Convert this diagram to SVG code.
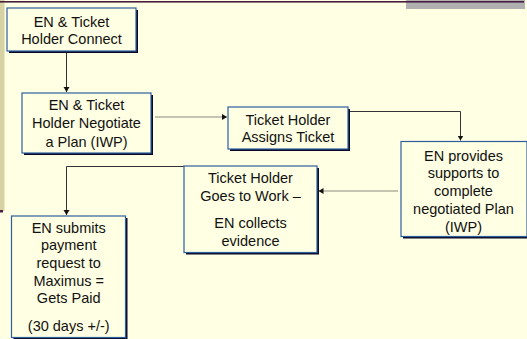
<svg xmlns="http://www.w3.org/2000/svg" width="527" height="339" viewBox="0 0 527 339">
<defs>
<style>
.box{fill:#FFFFE3;stroke:#2E5E9E;stroke-width:1.2}
.sh{fill:#0A0A28}
.t{font-family:"Liberation Sans",Arial,sans-serif;font-size:14.5px;fill:#111;text-anchor:middle}
.c{fill:none;stroke:#333;stroke-width:1}
.cg{fill:none;stroke:#8A8A80;stroke-width:1.2}
</style>
<marker id="ah" markerUnits="userSpaceOnUse" markerWidth="8" markerHeight="8" refX="5" refY="3" orient="auto">
<path d="M0,0 L5,3 L0,6 Z" fill="#111"/>
</marker>
</defs>
<rect x="0" y="0" width="527" height="339" fill="#FFFFE3"/>
<rect x="0" y="0" width="4.5" height="211" fill="#D6D2A4"/>
<rect x="0" y="210" width="3" height="2.5" fill="#4A1E40"/>
<rect x="406" y="0" width="119" height="9" fill="#B0B0B0"/>
<rect x="0" y="1" width="524" height="1.6" fill="#4A1E40"/>
<g id="connectors">
<path class="c" d="M66.5,52 V92" marker-end="url(#ah)"/>
<path class="cg" d="M155,117 H227" marker-end="url(#ah)"/>
<path class="c" d="M349,111.5 H460.5 V140.5" marker-end="url(#ah)"/>
<path class="cg" d="M398,191 H318.5" marker-end="url(#ah)"/>
<path class="c" d="M184,166.5 H66.5 V215" marker-end="url(#ah)"/>
</g>
<g id="n1">
<rect class="sh" x="9" y="10" width="129" height="43"/>
<rect class="box" x="7" y="8" width="129" height="43"/>
<text class="t" x="71.5" y="26.7">EN &amp; Ticket</text>
<text class="t" x="71.5" y="44.3">Holder Connect</text>
</g>
<g id="n2">
<rect class="sh" x="24" y="95" width="129" height="60"/>
<rect class="box" x="22" y="93" width="129" height="60"/>
<text class="t" x="86.5" y="110">EN &amp; Ticket</text>
<text class="t" x="86.5" y="128.3">Holder Negotiate</text>
<text class="t" x="86.5" y="146.5">a Plan (IWP)</text>
</g>
<g id="n3">
<rect class="sh" x="230" y="109" width="120" height="42"/>
<rect class="box" x="228" y="107" width="120" height="42"/>
<text class="t" x="288" y="124.5">Ticket Holder</text>
<text class="t" x="288" y="142">Assigns Ticket</text>
</g>
<g id="n4">
<rect class="sh" x="403" y="143.5" width="126" height="95"/>
<rect class="box" x="401" y="141.5" width="126" height="95"/>
<text class="t" x="463.5" y="160.5">EN provides</text>
<text class="t" x="463.5" y="178.2">supports to</text>
<text class="t" x="463.5" y="196">complete</text>
<text class="t" x="463.5" y="213.7">negotiated Plan</text>
<text class="t" x="463.5" y="231.5">(IWP)</text>
</g>
<g id="n5">
<rect class="sh" x="186" y="168" width="133" height="86.5"/>
<rect class="box" x="184" y="166" width="133" height="86.5"/>
<text class="t" x="250.5" y="183.3">Ticket Holder</text>
<text class="t" x="250.5" y="201">Goes to Work –</text>
<text class="t" x="250.5" y="228.3">EN collects</text>
<text class="t" x="250.5" y="245.5">evidence</text>
</g>
<g id="n6">
<rect class="sh" x="13.5" y="218" width="114" height="122"/>
<rect class="box" x="11.5" y="216" width="114" height="121.5"/>
<text class="t" x="68.7" y="232.7">EN submits</text>
<text class="t" x="68.7" y="250.2">payment</text>
<text class="t" x="68.7" y="268">request to</text>
<text class="t" x="68.7" y="285.7">Maximus =</text>
<text class="t" x="68.7" y="303.4">Gets Paid</text>
<text class="t" x="68.7" y="330.7">(30 days +/-)</text>
</g>
</svg>
